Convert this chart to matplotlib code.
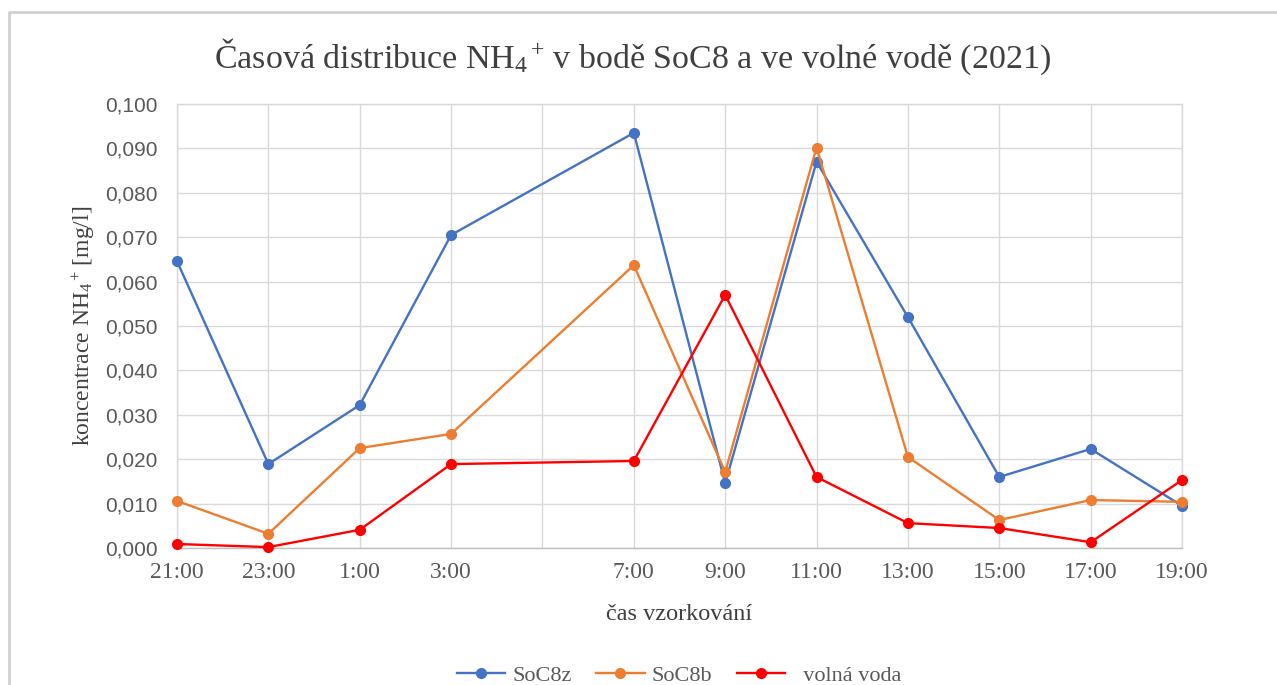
import matplotlib
matplotlib.use("Agg")
import matplotlib.pyplot as plt
from matplotlib.lines import Line2D

tick_labels = ["21:00", "23:00", "1:00", "3:00", "", "7:00", "9:00", "11:00",
               "13:00", "15:00", "17:00", "19:00"]
sample_times = ["21:00", "23:00", "1:00", "3:00", "7:00", "9:00", "11:00",
                "13:00", "15:00", "17:00", "19:00"]
soc8z = [0.0646, 0.0189, 0.0322, 0.0705, 0.0935, 0.0146, 0.0870, 0.0520,
         0.0160, 0.0223, 0.0095]
soc8b = [0.0106, 0.0032, 0.0225, 0.0257, 0.0637, 0.0171, 0.0902, 0.0205,
         0.0063, 0.0108, 0.0104]
volna_voda = [0.0009, 0.0002, 0.0041, 0.0189, 0.0196, 0.0570, 0.0160, 0.0056,
              0.0045, 0.0013, 0.0153]
series_names = ["SoC8z", "SoC8b", "  volná voda"]
series_colors = ["#4472C4", "#ED7D31", "#FF0000"]

plt.rcParams["mathtext.fontset"] = "custom"
plt.rcParams["mathtext.rm"] = "Liberation Serif"
plt.rcParams["mathtext.it"] = "Liberation Serif:italic"
plt.rcParams["mathtext.bf"] = "Liberation Serif:bold"
plt.rcParams["mathtext.default"] = "rm"

fig = plt.figure(figsize=(12.77, 6.85), dpi=100)
W, H = 1277, 685
ax = fig.add_axes([177 / W, 1 - 548 / H, (1182 - 177) / W, (548 - 104) / H])

xpos = [tick_labels.index(t) for t in sample_times]
for vals, name, col in zip([soc8z, soc8b, volna_voda], series_names, series_colors):
    ax.plot(xpos, vals, color=col, lw=1.7, marker="o", ms=7, label=name,
            clip_on=False, zorder=3)

ax.set_xlim(0, len(tick_labels) - 1)
ax.set_ylim(0, 0.1)
ax.set_xticks(range(len(tick_labels)))
ax.set_xticklabels(tick_labels, family="Liberation Serif", fontsize=17, color="#595959")
yt = [i / 100 for i in range(11)]
ax.set_yticks(yt)
ax.set_yticklabels([f"{v:.3f}".replace(".", ",") for v in yt],
                   family="Liberation Sans", fontsize=15, color="#595959")
ax.tick_params(length=0)
ax.tick_params(axis="y", pad=14)
ax.tick_params(axis="x", pad=10)
ax.grid(True, color="#D9D9D9", lw=1)
ax.set_axisbelow(True)
for s in ax.spines.values():
    s.set_color("#D9D9D9")
    s.set_linewidth(1)
ax.spines["bottom"].set_color("#BFBFBF")

ax.set_ylabel(r"koncentrace NH$_4{}^+\,$[mg/l]", family="Liberation Serif",
              fontsize=17, color="#404040", labelpad=6)
ax.set_xlabel("čas vzorkování", family="Liberation Serif", fontsize=17.5,
              color="#404040", labelpad=15)

fig.text(632 / W, 1 - 57 / H,
         r"Časová distribuce NH$_4{}^+\,$v bodě SoC8 a ve volné vodě (2021)",
         family="Liberation Serif", fontsize=24.5, color="#404040",
         ha="center", va="center")

leg = fig.legend(loc="center", bbox_to_anchor=(679 / W, 1 - 676 / H), ncol=3,
                 frameon=False, prop={"family": "Liberation Serif", "size": 16},
                 handlelength=2.2, columnspacing=1.1, handletextpad=0.3)
for t in leg.get_texts():
    t.set_color("#595959")

fig.add_artist(Line2D([9 / W, 9 / W, 1.0], [0, 1 - 12 / H, 1 - 12 / H],
                      transform=fig.transFigure, color="#D0D0D0", lw=2))

fig.savefig("out.png", dpi=100)
